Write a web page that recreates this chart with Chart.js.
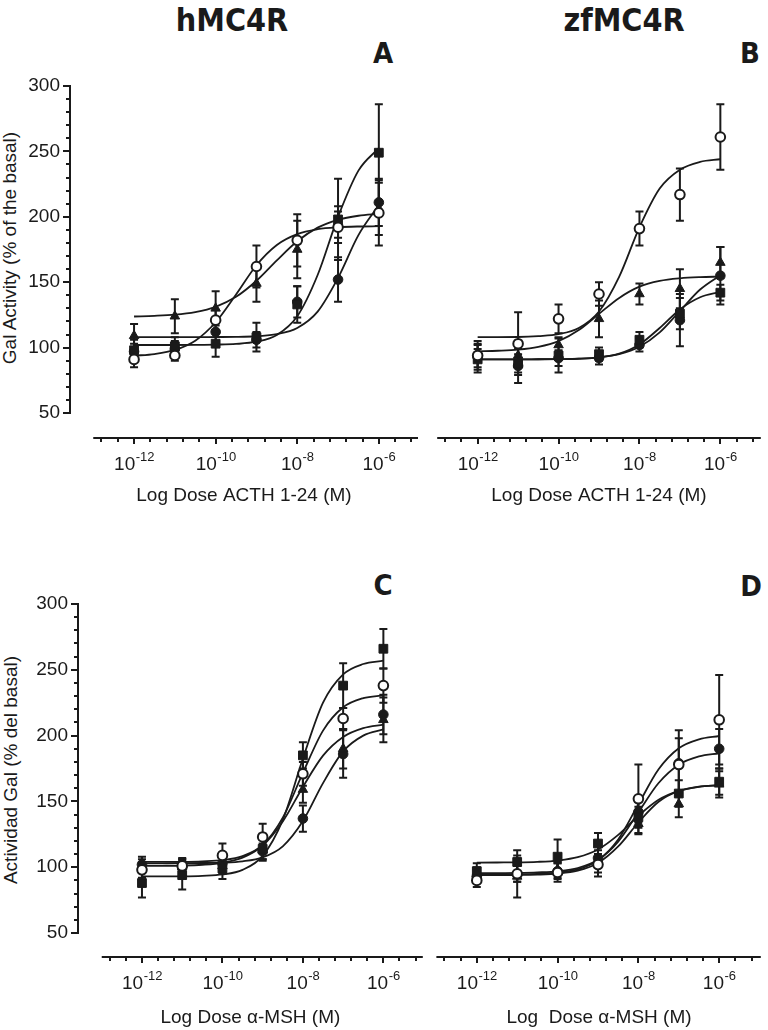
<!DOCTYPE html>
<html>
<head>
<meta charset="utf-8">
<script src="https://cdn.jsdelivr.net/npm/chart.js@4.4.1/dist/chart.umd.min.js"></script>
<style>
  body { margin: 0; background: #fff; width: 768px; height: 1030px; position: relative; overflow: hidden;
         font-family: "Liberation Sans", Arial, sans-serif; color: #1a1a1a; }
  .box { position: absolute; }
  .lbl { position: absolute; transform: translate(-50%, -50%); white-space: nowrap; }
  .head { font-family: "Liberation Sans Narrow", "DejaVu Sans Condensed", sans-serif; font-weight: bold; font-size: 32px; }
  .letter { font-family: "Liberation Sans Narrow", "DejaVu Sans Condensed", sans-serif; font-weight: bold; font-size: 29px; }
  .ytitle { font-size: 19px; transform: translate(-50%, -50%) rotate(-90deg); }
</style>
</head>
<body>
<div class="lbl head" style="left:232px;top:20px">hMC4R</div>
<div class="lbl head" style="left:624px;top:20px">zfMC4R</div>
<div class="lbl letter" style="left:383px;top:53px">A</div>
<div class="lbl letter" style="left:750px;top:53px">B</div>
<div class="lbl letter" style="left:383px;top:585px">C</div>
<div class="lbl letter" style="left:751px;top:586px">D</div>
<div class="lbl ytitle" style="left:10px;top:248px">Gal Activity (% of the basal)</div>
<div class="lbl ytitle" style="left:11px;top:770px">Actividad Gal (% del basal)</div>

<div class="box" style="left:0;top:60px"><canvas id="chartA" width="430" height="450"></canvas></div>
<div class="box" style="left:430px;top:60px"><canvas id="chartB" width="338" height="450"></canvas></div>
<div class="box" style="left:0;top:580px"><canvas id="chartC" width="430" height="450"></canvas></div>
<div class="box" style="left:430px;top:580px"><canvas id="chartD" width="338" height="450"></canvas></div>

<script>
// dosis (log10 M) de los puntos y de las curvas ajustadas
const doses = [-12, -11, -10, -9, -8, -7, -6];
const fitDoses = [-12, -11.5, -11, -10.5, -10, -9.5, -9, -8.5, -8, -7.5, -7, -6.5, -6];
// etiquetas del eje x: 10 elevado a estos exponentes
const xTickExponents = [-12, -10, -8, -6];

// A: hMC4R, ACTH 1-24
const A_open = [91, 94, 121, 162, 182, 192, 203];
const A_openSem = [6, 4, 8, 16, 20, 12, 25];
const A_openFit = [93.8, 95.1, 98.2, 105.3, 119.4, 140.6, 163, 178.5, 186.8, 190.5, 192, 192.6, 192.8];
const A_tri = [109, 124, 130, 149, 175, 196, 206];
const A_triSem = [9, 13, 13, 14, 22, 12, 20];
const A_triFit = [123.8, 124.3, 125.2, 127.2, 131.2, 138.8, 151.1, 166.7, 181.3, 191.7, 197.7, 200.8, 202.3];
const A_sq = [98, 101, 103, 108, 133, 198, 249];
const A_sqSem = [8, 7, 10, 11, 14, 31, 37];
const A_sqFit = [102, 102, 102, 102.1, 102.3, 102.8, 104.5, 109.6, 123.9, 155.5, 200, 235.3, 252.5];
const A_dot = [97, 99, 112, 106, 135, 152, 211];
const A_dotSem = [6, 6, 8, 6, 12, 17, 18];
const A_dotFit = [108, 108, 108, 108, 108.1, 108.2, 108.7, 110.3, 115, 127.5, 153.3, 186, 209];

// B: zfMC4R, ACTH 1-24
const B_open = [94, 103, 122, 141, 191, 217, 261];
const B_openSem = [9, 24, 11, 9, 13, 20, 25];
const B_openFit = [108, 108, 108.1, 108.8, 110.3, 115, 127.6, 154.3, 192, 221.6, 236, 242, 244];
const B_tri = [96, 94, 102, 122, 141, 145, 165];
const B_triSem = [6, 8, 6, 14, 8, 15, 12];
const B_triFit = [97.2, 97.6, 98.4, 100.5, 104.9, 113.4, 125.8, 138, 146.6, 151, 153, 153.9, 154.3];
const B_sq = [91, 88, 94, 95, 106, 126, 142];
const B_sqSem = [8, 7, 13, 5, 6, 12, 6];
const B_sqFit = [91, 91, 91, 91.1, 91.2, 91.5, 92.5, 95.4, 102.4, 115, 129.2, 138.5, 142.6];
const B_dot = [93, 86, 92, 92, 102, 121, 155];
const B_dotSem = [12, 13, 6, 5, 5, 20, 22];
const B_dotFit = [91, 91, 91, 91.1, 91.2, 91.6, 92.6, 95, 100.6, 111.6, 128, 144.4, 155.4];

// C: hMC4R, alfa-MSH
const C_open = [98, 101, 109, 123, 171, 213, 238];
const C_openSem = [6, 5, 9, 10, 9, 8, 13];
const C_openFit = [104, 104, 104.1, 104.5, 105.4, 108.4, 116.9, 137.7, 171.7, 203.8, 221.5, 228.5, 230.6];
const C_tri = [101, 100, 101, 113, 159, 190, 212];
const C_triSem = [5, 6, 6, 8, 10, 15, 17];
const C_triFit = [101, 101.1, 101.3, 101.9, 103.4, 107.3, 116.5, 134.8, 161, 184.8, 199, 205.7, 208.4];
const C_sq = [88, 94, 99, 114, 185, 238, 266];
const C_sqSem = [11, 11, 8, 8, 10, 17, 15];
const C_sqFit = [93, 93, 93.1, 93.5, 94.5, 98, 108.6, 136, 182.6, 225, 246.5, 254.4, 256.9];
const C_dot = [102, 100, 103, 112, 137, 186, 216];
const C_dotSem = [6, 7, 7, 6, 10, 18, 15];
const C_dotFit = [103, 103, 103.1, 103.2, 103.5, 104.5, 107.5, 115.9, 135.1, 163.9, 188, 200, 204.7];

// D: zfMC4R, alfa-MSH
const D_open = [90, 95, 96, 102, 152, 178, 212];
const D_openSem = [5, 6, 7, 6, 26, 20, 34];
const D_openFit = [94.5, 94.5, 94.6, 94.9, 95.8, 98.3, 105.2, 121.1, 147.8, 174.4, 190.4, 197.2, 199.7];
const D_tri = [95, 93, 98, 106, 133, 148, 163];
const D_triSem = [5, 16, 6, 13, 8, 10, 10];
const D_triFit = [94, 94, 94.1, 94.4, 95.2, 97.4, 103.2, 115.8, 134, 149.7, 157.9, 161.2, 162.4];
const D_sq = [97, 104, 108, 118, 138, 156, 165];
const D_sqSem = [6, 9, 13, 8, 8, 10, 10];
const D_sqFit = [103.5, 103.6, 103.7, 104.1, 105.1, 107.6, 113.5, 124.6, 139.1, 151.2, 158, 161.1, 162.3];
const D_dot = [93, 95, 97, 107, 142, 179, 190];
const D_dotSem = [5, 6, 6, 6, 8, 25, 15];
const D_dotFit = [95.5, 95.5, 95.7, 96.1, 96.9, 99.3, 105.6, 119.5, 141.8, 164, 177.9, 184.2, 186.6];

const INK = '#1a1a1a';
const FAMILY = '"Liberation Sans", Arial, sans-serif';
const tickFont = { family: FAMILY, size: 19 };

// barras de error (SEM) dibujadas antes de los puntos
const errorBars = {
  id: 'errorBars',
  beforeDatasetsDraw(chart) {
    const { ctx, scales: { x, y } } = chart;
    ctx.save();
    ctx.strokeStyle = INK;
    ctx.lineWidth = 2;
    chart.data.datasets.forEach(ds => {
      if (!ds.sem) return;
      ds.data.forEach((p, i) => {
        const px = x.getPixelForValue(p.x);
        const top = y.getPixelForValue(p.y + ds.sem[i]);
        const bot = y.getPixelForValue(p.y - ds.sem[i]);
        ctx.beginPath();
        ctx.moveTo(px, top); ctx.lineTo(px, bot);
        ctx.moveTo(px - 4, top); ctx.lineTo(px + 4, top);
        ctx.moveTo(px - 4, bot); ctx.lineTo(px + 4, bot);
        ctx.stroke();
      });
    });
    ctx.restore();
  }
};

// ejes separados al estilo Prism, con etiquetas 10^n
const prismAxes = {
  id: 'prismAxes',
  afterDraw(chart, args, opts) {
    const { ctx, chartArea, scales: { x, y } } = chart;
    ctx.save();
    ctx.strokeStyle = INK;
    ctx.lineWidth = 2;
    const yb = chartArea.bottom;
    ctx.beginPath();
    ctx.moveTo(x.getPixelForValue(opts.xStart), yb);
    ctx.lineTo(chartArea.right, yb);
    x.ticks.forEach(t => {
      const px = Math.round(x.getPixelForValue(t.value));
      const major = xTickExponents.includes(t.value);
      ctx.moveTo(px, yb);
      ctx.lineTo(px, yb + (major ? 6 : 4));
    });
    ctx.stroke();

    // etiquetas "10" con exponente
    ctx.fillStyle = INK;
    ctx.textBaseline = 'alphabetic';
    ctx.textAlign = 'left';
    xTickExponents.forEach(e => {
      const px = x.getPixelForValue(e);
      ctx.font = '19px ' + FAMILY;
      const wBase = ctx.measureText('10').width;
      ctx.font = '13px ' + FAMILY;
      const sup = String(e);
      const wSup = ctx.measureText(sup).width;
      const x0 = px - (wBase + wSup) / 2;
      ctx.font = '19px ' + FAMILY;
      ctx.fillText('10', x0, yb + 32);
      ctx.font = '13px ' + FAMILY;
      ctx.fillText(sup, x0 + wBase + 0.5, yb + 23);
    });

    if (opts.showY) {
      const xl = chartArea.left;
      ctx.beginPath();
      ctx.moveTo(xl, y.getPixelForValue(50) + 1);
      ctx.lineTo(xl, y.getPixelForValue(300) - 1);
      y.ticks.forEach(t => {
        const py = Math.round(y.getPixelForValue(t.value));
        ctx.moveTo(xl, py);
        ctx.lineTo(xl - (t.value % 50 === 0 ? 7 : 4), py);
      });
      ctx.stroke();
    }
    ctx.restore();
  }
};

function markerSet(values, sem, style) {
  return {
    data: doses.map((x, i) => ({ x, y: values[i] })),
    sem,
    pointStyle: style.shape,
    pointRadius: style.r,
    backgroundColor: style.fill,
    borderColor: INK,
    pointBorderWidth: style.fill === '#fff' ? 2 : 1,
    showLine: false,
    clip: false,
    order: 0
  };
}

function fitLine(values) {
  return {
    data: fitDoses.map((x, i) => ({ x, y: values[i] })),
    showLine: true,
    borderColor: INK,
    borderWidth: 1.8,
    pointRadius: 0,
    cubicInterpolationMode: 'monotone',
    fill: false,
    clip: false,
    order: 1
  };
}

const openStyle = { shape: 'circle', r: 4.8, fill: '#fff' };
const triStyle = { shape: 'triangle', r: 5.5, fill: INK };
const sqStyle = { shape: 'rect', r: 6.2, fill: INK };
const dotStyle = { shape: 'circle', r: 4.8, fill: INK };

function makePanel(id, p) {
  const datasets = [
    markerSet(p.open, p.openSem, openStyle),
    markerSet(p.tri, p.triSem, triStyle),
    markerSet(p.sq, p.sqSem, sqStyle),
    markerSet(p.dot, p.dotSem, dotStyle),
    fitLine(p.openFit), fitLine(p.triFit), fitLine(p.sqFit), fitLine(p.dotFit)
  ];
  new Chart(document.getElementById(id), {
    type: 'scatter',
    data: { datasets },
    options: {
      responsive: false,
      animation: false,
      layout: { padding: p.padding },
      plugins: {
        legend: { display: false },
        tooltip: { enabled: false },
        prismAxes: { xStart: -13, showY: p.showY }
      },
      scales: {
        x: {
          type: 'linear', min: p.xMin, max: p.xMax,
          afterBuildTicks: s => { const t = []; for (let k = -32; k <= -13; k++) t.push({ value: k / 2.5 }); s.ticks = t; },
          afterFit: s => { s.height = p.xHeight; },
          grid: { display: false, drawTicks: false },
          border: { display: false },
          ticks: { display: false, autoSkip: false, maxRotation: 0 },
          title: { display: true, text: p.xTitle, color: INK, font: { family: FAMILY, size: 19 }, padding: { top: 0, bottom: p.titlePad } }
        },
        y: {
          display: p.showY, min: p.yMin, max: 300,
          afterBuildTicks: s => { const t = []; for (let v = 50; v <= 300; v += 10) t.push({ value: v }); s.ticks = t; },
          afterFit: s => { s.width = p.yWidth; },
          grid: { display: false, drawTicks: false },
          border: { display: false },
          ticks: { autoSkip: false, padding: 10, color: INK, font: tickFont, callback: v => (v % 50 === 0 ? v : '') }
        }
      }
    },
    plugins: [errorBars, prismAxes]
  });
}

makePanel('chartA', {
  open: A_open, openSem: A_openSem, openFit: A_openFit, tri: A_tri, triSem: A_triSem, triFit: A_triFit,
  sq: A_sq, sqSem: A_sqSem, sqFit: A_sqFit, dot: A_dot, dotSem: A_dotSem, dotFit: A_dotFit,
  xMin: -13.57, xMax: -5.04, yMin: 30.9, showY: true, yWidth: 70, xHeight: 72,
  padding: { top: 26, right: 12, left: 0, bottom: 0 }, titlePad: 2.6,
  xTitle: 'Log Dose ACTH 1-24 (M)'
});
makePanel('chartB', {
  open: B_open, openSem: B_openSem, openFit: B_openFit, tri: B_tri, triSem: B_triSem, triFit: B_triFit,
  sq: B_sq, sqSem: B_sqSem, sqFit: B_sqFit, dot: B_dot, dotSem: B_dotSem, dotFit: B_dotFit,
  xMin: -13, xMax: -5, yMin: 30.9, showY: false, yWidth: 0, xHeight: 72,
  padding: { top: 26, right: 6, left: 5, bottom: 0 }, titlePad: 2.6,
  xTitle: 'Log Dose ACTH 1-24 (M)'
});
makePanel('chartC', {
  open: C_open, openSem: C_openSem, openFit: C_openFit, tri: C_tri, triSem: C_triSem, triFit: C_triFit,
  sq: C_sq, sqSem: C_sqSem, sqFit: C_sqFit, dot: C_dot, dotSem: C_dotSem, dotFit: C_dotFit,
  xMin: -13.59, xMax: -5.02, yMin: 31.8, showY: true, yWidth: 78, xHeight: 73,
  padding: { top: 24, right: 2, left: 0, bottom: 0 }, titlePad: 0.6,
  xTitle: 'Log Dose α-MSH (M)'
});
makePanel('chartD', {
  open: D_open, openSem: D_openSem, openFit: D_openFit, tri: D_tri, triSem: D_triSem, triFit: D_triFit,
  sq: D_sq, sqSem: D_sqSem, sqFit: D_sqFit, dot: D_dot, dotSem: D_dotSem, dotFit: D_dotFit,
  xMin: -12.98, xMax: -4.97, yMin: 31.8, showY: false, yWidth: 0, xHeight: 73,
  padding: { top: 24, right: 1, left: 5, bottom: 0 }, titlePad: 0.6,
  xTitle: 'Log  Dose α-MSH (M)'
});
</script>
</body>
</html>
